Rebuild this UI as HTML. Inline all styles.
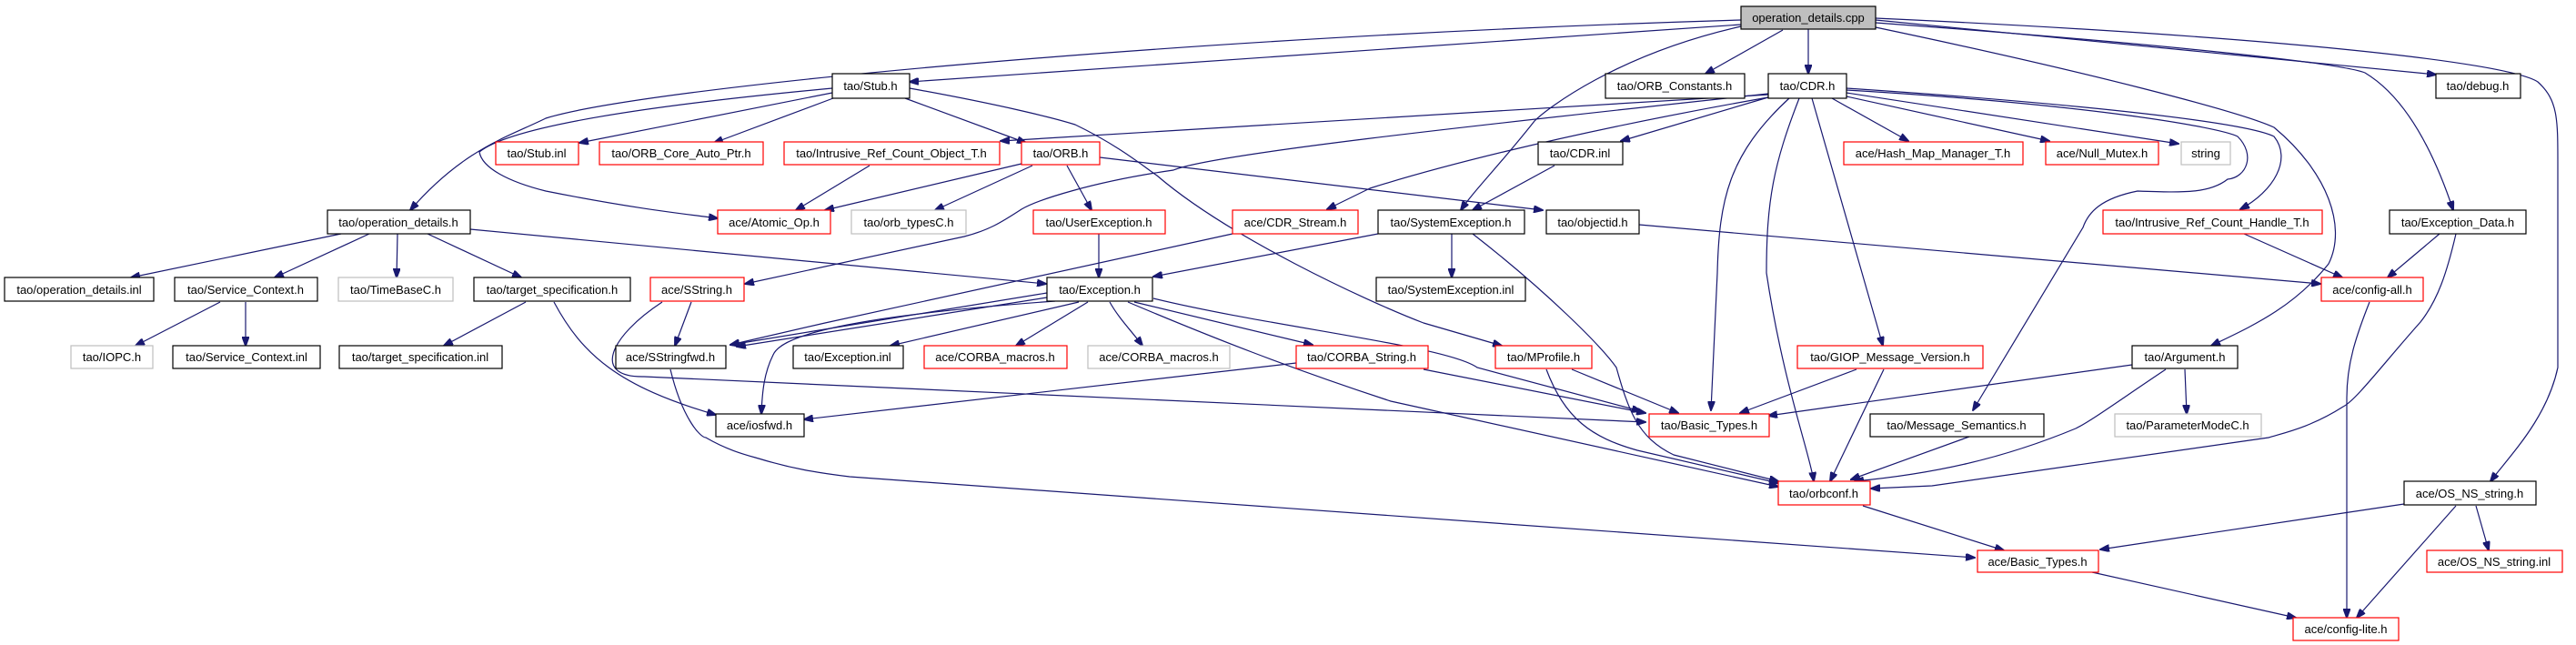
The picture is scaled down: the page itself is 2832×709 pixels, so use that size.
<!DOCTYPE html>
<html><head><meta charset="utf-8"><style>
html,body{margin:0;padding:0;background:#fff;width:2832px;height:709px;overflow:hidden}
svg{display:block}
text{font-family:"Liberation Sans",sans-serif;font-size:13px;fill:#000}
path{fill:none;stroke:#191970;stroke-width:1.2}
</style></head><body>
<svg width="2832" height="709" viewBox="0 0 2832 709" xmlns="http://www.w3.org/2000/svg">
<defs><marker id="a" markerWidth="11" markerHeight="8" refX="10" refY="4" orient="auto" markerUnits="userSpaceOnUse"><path d="M0,0 L11,4 L0,8 Z" style="fill:#191970;stroke:#191970"/></marker></defs>
<g marker-end="url(#a)">
<path d="M1914,27 L1000,90"/>
<path d="M1914,22 C1300,40 708,96 600,130 C560,150 510,163 451,231"/>
<path d="M1960,33 L1875,81"/>
<path d="M1988,32 L1988,81"/>
<path d="M1914,29 C1777,60 1700,120 1687,133 C1650,180 1620,210 1606,231"/>
<path d="M2062,22 L2678,82"/>
<path d="M2062,25 C2400,50 2575,70 2600,80 C2650,110 2680,180 2697,231"/>
<path d="M2062,20 C2500,40 2756,68 2790,90 C2812,110 2812,130 2812,180 L2812,404 C2800,460 2760,500 2738,529"/>
<path d="M2062,30 C2300,80 2463,123 2500,140 C2560,190 2580,250 2560,290 C2520,340 2472,360 2431,380"/>
<path d="M915,97 C700,117 560,140 527,167 C530,185 560,200 600,210 C700,230 760,236 789,240"/>
<path d="M915,102 L637,157"/>
<path d="M916,108 L785,157"/>
<path d="M995,108 L1128,157"/>
<path d="M1000,97 C1100,115 1160,130 1182,137 C1230,160 1260,185 1272,193 C1350,260 1500,330 1565,355 L1651,380"/>
<path d="M1967,108 C1900,170 1890,220 1888,300 L1881,451"/>
<path d="M1978,108 C1950,180 1942,220 1942,300 C1960,420 1990,500 1994,529"/>
<path d="M1992,108 L2070,380"/>
<path d="M2014,108 L2098,155"/>
<path d="M2030,106 L2253,155"/>
<path d="M2030,102 L2395,158"/>
<path d="M2030,97 C2300,115 2470,135 2500,150 C2520,175 2500,210 2463,230"/>
<path d="M2030,99 C2300,115 2440,140 2460,150 C2480,170 2470,195 2449,197 C2430,212 2404,212 2350,210 C2310,218 2296,233 2290,250 L2169,451"/>
<path d="M1944,107 L1782,155"/>
<path d="M1944,107 C1700,150 1560,190 1506,207 L1459,230"/>
<path d="M1944,104 L1100,155"/>
<path d="M1944,103 C1600,140 1330,170 1290,187 C1200,200 1140,220 1123,230 C1100,245 1087,253 1060,260 L819,312"/>
<path d="M956,182 L875,231"/>
<path d="M1123,180 L907,231"/>
<path d="M1135,182 L1028,231"/>
<path d="M1173,182 L1200,231"/>
<path d="M1209,173 L1696,231"/>
<path d="M1208,257 L1208,305"/>
<path d="M517,252 L1150,312"/>
<path d="M1515,257 L1268,304"/>
<path d="M1596,257 L1596,305"/>
<path d="M1709,182 L1619,231"/>
<path d="M1802,247 L2551,312"/>
<path d="M2467,257 L2575,305"/>
<path d="M2682,257 L2625,305"/>
<path d="M1355,257 L907,355 L803,379"/>
<path d="M760,332 L742,380"/>
<path d="M1151,322 L803,379"/>
<path d="M1151,327 L810,381"/>
<path d="M1160,331 C900,350 857,374 850,390 C840,410 838,430 837,455"/>
<path d="M1186,332 L979,380"/>
<path d="M1196,332 L1117,380"/>
<path d="M1220,332 C1230,350 1245,365 1256,380"/>
<path d="M1247,332 L1443,379"/>
<path d="M1268,328 C1400,360 1590,380 1624,404 L1804,452"/>
<path d="M1240,332 C1330,370 1416,404 1529,441 L1955,535"/>
<path d="M609,332 C640,390 680,425 787,456"/>
<path d="M728,332 C670,370 650,415 708,414 L1809,464"/>
<path d="M1425,399 L884,461"/>
<path d="M1565,406 L1809,454"/>
<path d="M1728,406 L1845,454"/>
<path d="M1700,406 C1720,460 1750,481 1800,495 L1955,531"/>
<path d="M1619,257 C1700,320 1760,380 1777,404 C1790,450 1800,481 1840,500 L1955,529"/>
<path d="M2041,406 L1913,454"/>
<path d="M2071,406 L2012,529"/>
<path d="M2344,401 L1944,457"/>
<path d="M2381,406 C2330,440 2300,462 2282,471 C2200,505 2124,521 2039,529"/>
<path d="M2402,406 L2404,455"/>
<path d="M2165,480 L2035,527"/>
<path d="M2700,257 C2690,300 2680,330 2661,354 C2620,400 2590,440 2576,447 C2540,470 2510,476 2494,481 L2124,534 L2057,537"/>
<path d="M2605,332 C2590,370 2580,400 2580,437 L2580,679"/>
<path d="M2048,556 L2203,605"/>
<path d="M737,406 C750,460 770,481 776,481 C800,495 820,500 834,504 C870,515 900,520 934,524 L2171,613"/>
<path d="M2643,554 L2309,604"/>
<path d="M2700,556 L2591,679"/>
<path d="M2722,556 L2736,605"/>
<path d="M2300,629 L2524,679"/>
<path d="M375,257 L144,305"/>
<path d="M406,257 L302,305"/>
<path d="M437,257 L436,305"/>
<path d="M470,257 L573,305"/>
<path d="M242,332 L149,380"/>
<path d="M270,332 L270,380"/>
<path d="M578,332 L488,380"/>
</g>
<g stroke-width="1.2">
<rect x="1914" y="7" width="148" height="25" fill="#bfbfbf" stroke="#000"/><text x="1988" y="24" text-anchor="middle">operation_details.cpp</text>
<g fill="#fff" stroke="#000">
<rect x="360" y="231" width="157" height="26"/><rect x="5" y="305" width="164" height="26"/><rect x="192" y="305" width="157" height="26"/><rect x="521" y="305" width="172" height="26"/>
<rect x="190" y="380" width="162" height="25"/><rect x="373" y="380" width="179" height="25"/>
<rect x="915" y="81" width="85" height="27"/><rect x="1151" y="305" width="116" height="26"/><rect x="677" y="380" width="121" height="25"/>
<rect x="872" y="380" width="121" height="25"/><rect x="787" y="455" width="97" height="25"/>
<rect x="1765" y="81" width="153" height="27"/><rect x="1944" y="81" width="86" height="27"/><rect x="1691" y="156" width="93" height="25"/>
<rect x="1515" y="231" width="161" height="26"/><rect x="1700" y="231" width="102" height="26"/><rect x="1513" y="305" width="164" height="26"/>
<rect x="2678" y="81" width="93" height="27"/><rect x="2627" y="231" width="150" height="26"/><rect x="2056" y="455" width="191" height="25"/>
<rect x="2344" y="380" width="116" height="25"/><rect x="2643" y="529" width="145" height="26"/>
</g>
<g fill="#fff" stroke="#f00">
<rect x="545" y="156" width="91" height="25"/><rect x="659" y="156" width="180" height="25"/><rect x="862" y="156" width="237" height="25"/><rect x="1123" y="156" width="86" height="25"/>
<rect x="789" y="231" width="124" height="26"/><rect x="1136" y="231" width="145" height="26"/><rect x="1355" y="231" width="138" height="26"/><rect x="715" y="305" width="103" height="26"/>
<rect x="1016" y="380" width="157" height="25"/><rect x="1425" y="380" width="145" height="25"/><rect x="1644" y="380" width="106" height="25"/><rect x="1976" y="380" width="204" height="25"/>
<rect x="1813" y="455" width="132" height="25"/><rect x="1955" y="529" width="101" height="26"/>
<rect x="2027" y="156" width="197" height="25"/><rect x="2249" y="156" width="124" height="25"/><rect x="2312" y="231" width="241" height="26"/><rect x="2552" y="305" width="112" height="26"/>
<rect x="2174" y="605" width="133" height="24"/><rect x="2668" y="605" width="149" height="24"/><rect x="2521" y="679" width="116" height="25"/>
</g>
<g fill="#fff" stroke="#bfbfbf">
<rect x="372" y="305" width="126" height="26"/><rect x="78" y="380" width="90" height="25"/><rect x="936" y="231" width="126" height="26"/>
<rect x="1196" y="380" width="156" height="25"/><rect x="2398" y="156" width="54" height="25"/><rect x="2325" y="455" width="161" height="25"/>
</g>
</g>
<g text-anchor="middle">
<text x="438" y="249">tao/operation_details.h</text><text x="87" y="323">tao/operation_details.inl</text><text x="270" y="323">tao/Service_Context.h</text><text x="607" y="323">tao/target_specification.h</text>
<text x="271" y="397">tao/Service_Context.inl</text><text x="462" y="397">tao/target_specification.inl</text>
<text x="957" y="99">tao/Stub.h</text><text x="1209" y="323">tao/Exception.h</text><text x="737" y="397">ace/SStringfwd.h</text>
<text x="932" y="397">tao/Exception.inl</text><text x="835" y="472">ace/iosfwd.h</text>
<text x="1841" y="99">tao/ORB_Constants.h</text><text x="1987" y="99">tao/CDR.h</text><text x="1737" y="173">tao/CDR.inl</text>
<text x="1595" y="249">tao/SystemException.h</text><text x="1751" y="249">tao/objectid.h</text><text x="1595" y="323">tao/SystemException.inl</text>
<text x="2724" y="99">tao/debug.h</text><text x="2702" y="249">tao/Exception_Data.h</text><text x="2151" y="472">tao/Message_Semantics.h</text>
<text x="2402" y="397">tao/Argument.h</text><text x="2715" y="547">ace/OS_NS_string.h</text>
<text x="590" y="173">tao/Stub.inl</text><text x="749" y="173">tao/ORB_Core_Auto_Ptr.h</text><text x="980" y="173">tao/Intrusive_Ref_Count_Object_T.h</text><text x="1166" y="173">tao/ORB.h</text>
<text x="851" y="249">ace/Atomic_Op.h</text><text x="1208" y="249">tao/UserException.h</text><text x="1424" y="249">ace/CDR_Stream.h</text><text x="766" y="323">ace/SString.h</text>
<text x="1094" y="397">ace/CORBA_macros.h</text><text x="1497" y="397">tao/CORBA_String.h</text><text x="1697" y="397">tao/MProfile.h</text><text x="2078" y="397">tao/GIOP_Message_Version.h</text>
<text x="1879" y="472">tao/Basic_Types.h</text><text x="2005" y="547">tao/orbconf.h</text>
<text x="2125" y="173">ace/Hash_Map_Manager_T.h</text><text x="2311" y="173">ace/Null_Mutex.h</text><text x="2432" y="249">tao/Intrusive_Ref_Count_Handle_T.h</text><text x="2608" y="323">ace/config-all.h</text>
<text x="2240" y="622">ace/Basic_Types.h</text><text x="2742" y="622">ace/OS_NS_string.inl</text><text x="2579" y="696">ace/config-lite.h</text>
<text x="435" y="323">tao/TimeBaseC.h</text><text x="123" y="397">tao/IOPC.h</text><text x="999" y="249">tao/orb_typesC.h</text>
<text x="1274" y="397">ace/CORBA_macros.h</text><text x="2425" y="173">string</text><text x="2405" y="472">tao/ParameterModeC.h</text>
</g>
</svg>
</body></html>
